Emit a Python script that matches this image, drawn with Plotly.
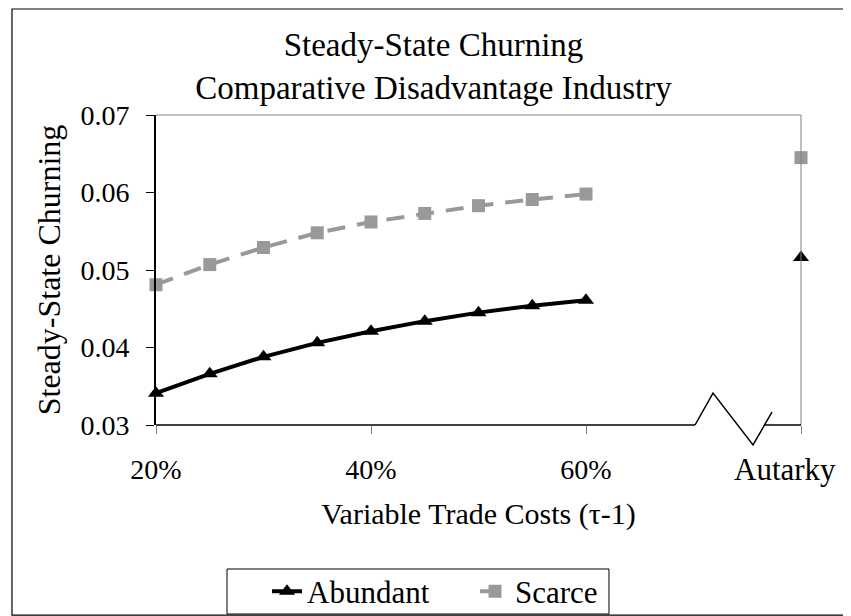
import plotly.graph_objects as go

# ---- data ----
trade_costs = [20, 25, 30, 35, 40, 45, 50, 55, 60]          # percent
abundant = [0.0341, 0.0366, 0.0388, 0.0406, 0.0421, 0.0434, 0.0445, 0.0454, 0.0461]
scarce = [0.0481, 0.0507, 0.0529, 0.0548, 0.0562, 0.0573, 0.0583, 0.0591, 0.0598]
autarky_x = 80
autarky_abundant = 0.0516
autarky_scarce = 0.0645
x_tickvals = [20, 40, 60, 80]
x_ticktext = ["20%", "40%", "60%", ""]
y_tickvals = [0.03, 0.04, 0.05, 0.06, 0.07]

FONT = "Liberation Serif, Times New Roman, serif"
FS_TICK = 28
FS_TITLE = 33
FS_AXT = 30
FS_YT = 32
FS_LEG = 31

# gap (None) separates the autarky point from the connected line
xs = trade_costs + [70, autarky_x]
ya = abundant + [None, autarky_abundant]
ys = scarce + [None, autarky_scarce]

fig = go.Figure()
fig.add_trace(go.Scatter(
    x=xs, y=ya, name="Abundant", mode="lines+markers",
    line=dict(color="black", width=4),
    marker=dict(symbol="triangle-up", size=14, color="black"),
    cliponaxis=False,
))
fig.add_trace(go.Scatter(
    x=xs, y=ys, name="Scarce", mode="lines+markers",
    line=dict(color="#999999", width=4, dash="18px,12px"),
    marker=dict(symbol="square", size=13, color="#999999"),
    cliponaxis=False,
))

shapes = []
# outer frame
shapes.append(dict(type="rect", xref="paper", yref="paper",
                   x0=-0.2233, x1=1.0713, y0=-0.613, y1=1.342,
                   line=dict(color="black", width=1.2), layer="below"))
# legend box
shapes.append(dict(type="rect", xref="paper", yref="paper",
                   x0=0.1101, x1=0.7023, y0=-0.6097, y1=-0.4645,
                   line=dict(color="black", width=1), fillcolor="white", layer="above"))
# top & right plot border (grey)
shapes.append(dict(type="line", xref="paper", yref="paper", x0=0, x1=1, y0=1, y1=1,
                   line=dict(color="#808080", width=1)))
shapes.append(dict(type="line", xref="paper", yref="paper", x0=1, x1=1, y0=0, y1=1,
                   line=dict(color="#808080", width=1)))
# broken x axis baseline with zig-zag break mark
shapes.append(dict(type="line", xref="paper", yref="paper", x0=0, x1=0.8357, y0=0, y1=0,
                   line=dict(color="black", width=1.5)))
shapes.append(dict(type="line", xref="paper", yref="paper", x0=0.9442, x1=1, y0=0, y1=0,
                   line=dict(color="black", width=1.5)))
shapes.append(dict(type="path", xref="paper", yref="paper",
                   path="M 0.8357,0 L 0.8636,0.1032 L 0.9256,-0.0645 L 0.955,0.0419",
                   line=dict(color="black", width=1.5)))

fig.update_layout(
    width=843, height=608,
    margin=dict(l=148, r=50, t=107, b=191, autoexpand=False),
    paper_bgcolor="white", plot_bgcolor="white",
    font=dict(family=FONT, size=FS_TICK, color="black"),
    title=dict(text="Steady-State Churning<br>Comparative Disadvantage Industry",
               x=0.5 + 4 / 843, xref="container", xanchor="center",
               y=1 - 48 / 608, yref="container", yanchor="middle",
               font=dict(family=FONT, size=FS_TITLE, color="black")),
    xaxis=dict(range=[20, 80], tickvals=x_tickvals, ticktext=x_ticktext,
               showgrid=False, zeroline=False, showline=False,
               ticks="outside", ticklen=8, tickcolor="#808080", tickwidth=1,
               ticklabelstandoff=11, tickfont=dict(size=FS_TICK),
               title=dict(text="Variable Trade Costs (τ-1)", standoff=19,
                          font=dict(family=FONT, size=FS_AXT))),
    yaxis=dict(range=[0.03, 0.07], tickvals=y_tickvals,
               tickformat=".2f",
               showgrid=False, zeroline=False, showline=True,
               linecolor="black", linewidth=2,
               ticks="outside", ticklen=8, tickcolor="black", tickwidth=1,
               ticklabelstandoff=11, tickfont=dict(size=FS_TICK),
               title=dict(text="Steady-State Churning", standoff=10,
                          font=dict(family=FONT, size=FS_YT))),
    legend=dict(orientation="h", x=(267 - 156) / 645, xanchor="left",
                y=(425 - 591.5) / 310, yanchor="middle",
                borderwidth=0, bgcolor="rgba(0,0,0,0)",
                font=dict(family=FONT, size=FS_LEG),
                entrywidth=163, entrywidthmode="pixels",
                tracegroupgap=0),
    shapes=shapes,
    annotations=[dict(text="Autarky", x=autarky_x, xref="x", y=-0.145, yref="paper",
                      xshift=-16, showarrow=False, xanchor="center", yanchor="middle",
                      font=dict(family=FONT, size=31))],
    showlegend=True,
)

fig.write_html("out.html")
